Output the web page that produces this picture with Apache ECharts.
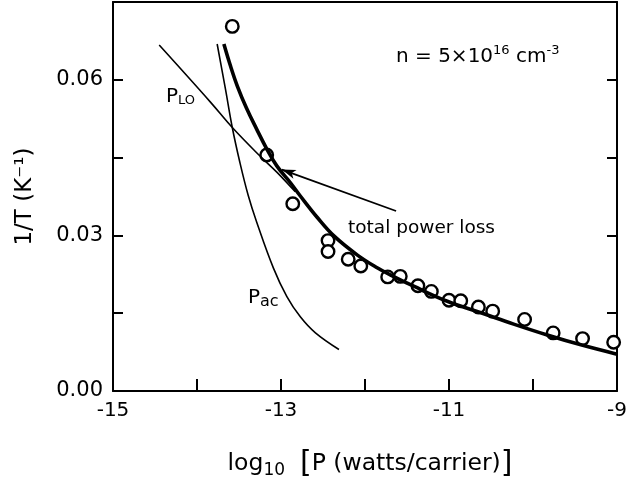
<!DOCTYPE html>
<html>
<head>
<meta charset="utf-8">
<script src="https://cdn.jsdelivr.net/npm/echarts@6/dist/echarts.min.js"></script>
<style>
html, body { margin: 0; padding: 0; background: #fff; }
#main { width: 643px; height: 484px; }
</style>
</head>
<body>
<div id="main"></div>
<script>
// measured points (circles)
var dataX = [-13.58, -13.17, -12.86, -12.44, -12.44, -12.20, -12.05, -11.73, -11.58, -11.37, -11.21, -11.0, -10.86, -10.65, -10.48, -10.10, -9.76, -9.41, -9.04];
var dataY = [0.0703, 0.0455, 0.0361, 0.0290, 0.0269, 0.0254, 0.0241, 0.0220, 0.0221, 0.0203, 0.0192, 0.0175, 0.0174, 0.0162, 0.0154, 0.0138, 0.0112, 0.0101, 0.0094];

// total power loss (thick curve)
var totalX = [-13.68, -13.60, -13.52, -13.41, -13.29, -13.17, -13.05, -12.89, -12.77, -12.57, -12.37, -12.09, -11.85, -11.70, -11.42, -11.02, -10.62, -10.23, -9.83, -9.43, -9.0];
var totalY = [0.0669, 0.0626, 0.0588, 0.0545, 0.0505, 0.0467, 0.0434, 0.0402, 0.0376, 0.0335, 0.0299, 0.0262, 0.0237, 0.0224, 0.0202, 0.0173, 0.0151, 0.0129, 0.0108, 0.0089, 0.0071];

// P_ac
var acX = [-13.76, -13.66, -13.58, -13.49, -13.39, -13.29, -13.09, -12.93, -12.77, -12.59, -12.31];
var acY = [0.0669, 0.0581, 0.0508, 0.0441, 0.0377, 0.0326, 0.0237, 0.0182, 0.0143, 0.0112, 0.0080];

// P_LO
var loX = [-14.45, -13.84, -13.58, -13.25, -13.05, -12.83];
var loY = [0.0667, 0.0557, 0.0508, 0.0453, 0.0422, 0.0384];

// arrow from label to curve
var arrowFrom = [-11.63, 0.0347];
var arrowTo = [-12.99, 0.0427];

var xTicks = [-15, -13, -11, -9];
var yTicks = [0, 0.03, 0.06];

function pairs(xs, ys) {
    var out = [];
    for (var i = 0; i < xs.length; i++) {
        out.push([xs[i], ys[i]]);
    }
    return out;
}

var font = 'DejaVu Sans';
var chart = echarts.init(document.getElementById('main'));

var option = {
    backgroundColor: '#fff',
    animation: false,
    textStyle: { fontFamily: font, color: '#000' },
    grid: { left: 113, right: 26, top: 2, bottom: 90, containLabel: false },
    xAxis: [
        {
            type: 'value', min: -15, max: -9, interval: 1,
            axisLine: { show: true, onZero: false, lineStyle: { color: '#000', width: 2 } },
            axisTick: { show: true, inside: true, length: 12, lineStyle: { color: '#000', width: 2 } },
            splitLine: { show: false },
            axisLabel: {
                color: '#000', fontSize: 20, fontFamily: font, margin: 10,
                formatter: function (v) { return xTicks.indexOf(v) >= 0 ? String(v) : ''; }
            },
            name: '{a|log}{s|10}{a|  }{b|[}{a|P (watts/carrier)}{b|]}',
            nameLocation: 'middle',
            nameGap: 58,
            nameTextStyle: {
                padding: [0, 0, 0, 10],
                rich: {
                    a: { fontSize: 23.5, fontFamily: font, color: '#000' },
                    s: { fontSize: 17, fontFamily: font, color: '#000', verticalAlign: 'bottom', padding: [13, 0, 0, 0] },
                    b: { fontSize: 30, fontFamily: font, color: '#000' }
                }
            }
        },
        {
            type: 'value', min: -15, max: -9, position: 'top',
            axisLine: { show: true, onZero: false, lineStyle: { color: '#000', width: 2 } },
            axisTick: { show: false }, axisLabel: { show: false }, splitLine: { show: false }
        }
    ],
    yAxis: [
        {
            type: 'value', min: 0, max: 0.075, interval: 0.015,
            axisLine: { show: true, onZero: false, lineStyle: { color: '#000', width: 2 } },
            axisTick: { show: true, inside: true, length: 10, lineStyle: { color: '#000', width: 2 } },
            splitLine: { show: false },
            axisLabel: {
                color: '#000', fontSize: 21, fontFamily: font, margin: 10,
                formatter: function (v) {
                    for (var i = 0; i < yTicks.length; i++) {
                        if (Math.abs(v - yTicks[i]) < 1e-9) return yTicks[i].toFixed(2);
                    }
                    return '';
                }
            },
            name: '1/T (K⁻¹)',
            nameLocation: 'middle',
            nameRotate: 90,
            nameGap: 76,
            nameTextStyle: { fontSize: 23, fontFamily: font, color: '#000' }
        },
        {
            type: 'value', min: 0, max: 0.075, interval: 0.015, position: 'right',
            axisLine: { show: true, onZero: false, lineStyle: { color: '#000', width: 2 } },
            axisTick: { show: true, inside: true, length: 10, lineStyle: { color: '#000', width: 2 } },
            axisLabel: { show: false }, splitLine: { show: false }
        }
    ],
    series: [
        {
            name: 'P_LO', type: 'line', data: pairs(loX, loY), smooth: 0.4,
            showSymbol: false, lineStyle: { color: '#000', width: 1.6 }
        },
        {
            name: 'P_ac', type: 'line', data: pairs(acX, acY), smooth: 0.4,
            showSymbol: false, lineStyle: { color: '#000', width: 1.6 }
        },
        {
            name: 'total', type: 'line', data: pairs(totalX, totalY), smooth: 0.4,
            showSymbol: false, lineStyle: { color: '#000', width: 3.6 },
            markLine: {
                silent: true,
                symbol: ['none', 'arrow'],
                symbolSize: [7, 14],
                label: { show: false },
                lineStyle: { color: '#000', width: 1.8, type: 'solid' },
                data: [[{ coord: arrowFrom }, { coord: arrowTo }]]
            }
        },
        {
            name: 'data', type: 'scatter', data: pairs(dataX, dataY),
            symbol: 'circle', symbolSize: 12.5,
            itemStyle: { color: '#fff', borderColor: '#000', borderWidth: 2.4, opacity: 1 }
        }
    ],
    graphic: [
        {
            type: 'text', left: 396, top: 44,
            style: {
                text: '{a|n = 5×10}{s|16}{a| cm}{s|-3}',
                rich: {
                    a: { fontSize: 20, fontFamily: font, fill: '#000' },
                    s: { fontSize: 13, fontFamily: font, fill: '#000', verticalAlign: 'top', padding: [0, 0, 12, 0] }
                }
            }
        },
        {
            type: 'text', left: 348, top: 219,
            style: { text: 'total power loss', fontSize: 18.5, fontFamily: font, fill: '#000' }
        },
        {
            type: 'text', left: 166, top: 87,
            style: {
                text: '{a|P}{s|LO}',
                rich: {
                    a: { fontSize: 20, fontFamily: font, fill: '#000' },
                    s: { fontSize: 13, fontFamily: font, fill: '#000', padding: [8, 0, 0, 0] }
                }
            }
        },
        {
            type: 'text', left: 248, top: 288,
            style: {
                text: '{a|P}{s|ac}',
                rich: {
                    a: { fontSize: 20, fontFamily: font, fill: '#000' },
                    s: { fontSize: 16, fontFamily: font, fill: '#000', padding: [8, 0, 0, 0] }
                }
            }
        }
    ]
};

chart.setOption(option);
</script>
</body>
</html>
